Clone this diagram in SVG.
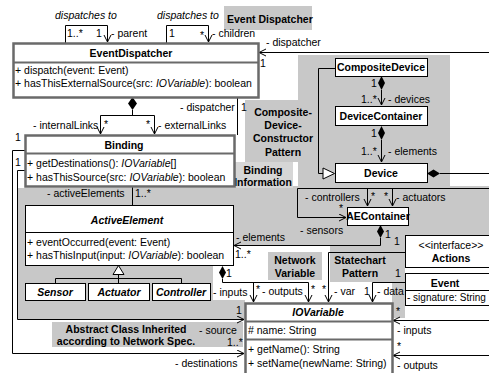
<svg xmlns="http://www.w3.org/2000/svg" width="489" height="373" viewBox="0 0 489 373">
<style>
.t{font-family:"Liberation Sans",Arial,sans-serif;font-size:10.5px;fill:#000}
.s{font-size:10px}
.b{font-weight:bold}
.i{font-style:italic}
.m{text-anchor:middle}
.box{fill:#fff;stroke:#000;stroke-width:1}
.hl{fill:#fff;stroke:#6a6a6a;stroke-width:2.5}
.hs{stroke:#6a6a6a;stroke-width:2}
.ln{fill:none;stroke:#000;stroke-width:1}
.gr{fill:#c8c8c8}
.gl{fill:#d6d6d6}
.dm{fill:#000}
.tri{fill:#fff;stroke:#000;stroke-width:1}
</style>
<defs>
<marker id="a" markerWidth="10" markerHeight="10" refX="7" refY="4" orient="auto" markerUnits="userSpaceOnUse"><path d="M0,0.5 L7,4 L0,7.5" fill="none" stroke="#000" stroke-width="1"/></marker>
</defs>
<g id="regions">
<rect class="gr" x="224" y="6" width="88" height="24"/>
<rect class="gr" x="298" y="55" width="152" height="131"/>
<rect class="gr" x="245" y="100" width="53" height="62"/>
<rect class="gr" x="235" y="186" width="254" height="59"/>
<rect class="gr" x="17" y="188" width="228" height="57"/>
<rect class="gr" x="17" y="245" width="196" height="74"/>
<rect class="gr" x="213" y="300" width="32" height="19"/>
<rect class="gr" x="330" y="245" width="75" height="37"/>
<rect class="gr" x="392" y="245" width="13" height="73"/>
<rect class="gr" x="268" y="252" width="54" height="28"/>
<rect class="gr" x="52" y="322" width="191" height="25"/>
<rect class="gl" x="235" y="162" width="58" height="26"/>
<text class="t b" x="227" y="23">Event Dispatcher</text>
<text class="t b m" x="283" y="116">Composite-</text>
<text class="t b m" x="283" y="129">Device-</text>
<text class="t b m" x="283" y="142">Constructor</text>
<text class="t b m" x="283" y="156">Pattern</text>
<text class="t b m" x="263" y="174">Binding</text>
<text class="t b m" x="263" y="186">Information</text>
<text class="t b m" x="295" y="264">Network</text>
<text class="t b m" x="295" y="277">Variable</text>
<text class="t b m" x="360" y="264">Statechart</text>
<text class="t b m" x="360" y="277">Pattern</text>
<text class="t b m" x="126" y="333">Abstract Class Inherited</text>
<text class="t b m" x="126" y="345">according to Network Spec.</text>
</g>
<g id="connectors">
<path class="ln" d="M65.5,43 V25.5 H107.5 V42" marker-end="url(#a)"/>
<path class="ln" d="M166.5,43 V25.5 H208.5 V42" marker-end="url(#a)"/>
<path class="ln" d="M489,52.5 H259" marker-end="url(#a)"/>
<polygon class="dm" points="132.5,97 137,103.5 132.5,110 128,103.5"/>
<path class="ln" d="M132.5,110 V115.5 M100.5,115.5 H154.5"/>
<path class="ln" d="M100.5,115.5 V134" marker-end="url(#a)"/>
<path class="ln" d="M154.5,115.5 V134" marker-end="url(#a)"/>
<path class="ln" d="M237.5,97 V135"/>
<path class="ln" d="M132.5,186 V205"/>
<path class="ln" d="M25,150.5 H12.5 V353.5 H244" marker-end="url(#a)"/>
<path class="ln" d="M25,170.5 H17.5 V319.5 H244" marker-end="url(#a)"/>
<polygon class="tri" points="118.5,265.5 113,274.5 124,274.5"/>
<path class="ln" d="M118.5,274.5 V283 M55.5,278.5 H181.5 M55.5,278.5 V283 M181.5,278.5 V283"/>
<polygon class="dm" points="222.5,266 226,272.5 222.5,279 219,272.5"/>
<path class="ln" d="M222.5,279 V282.5 H308.5"/>
<path class="ln" d="M253.5,282.5 V302" marker-end="url(#a)"/>
<path class="ln" d="M308.5,282.5 V302" marker-end="url(#a)"/>
<path class="ln" d="M405,252.5 H328.5 V302" marker-end="url(#a)"/>
<path class="ln" d="M405,282.5 H372.5 V302" marker-end="url(#a)"/>
<path class="ln" d="M489,320.5 H393" marker-end="url(#a)"/>
<path class="ln" d="M489,355.5 H393" marker-end="url(#a)"/>
<polygon class="dm" points="380.5,225 384,231.5 380.5,238 377,231.5"/>
<path class="ln" d="M380.5,238 V245.5 H234" marker-end="url(#a)"/>
<path class="ln" d="M489,188.5 H297.5 V217.5 H346" marker-end="url(#a)"/>
<path class="ln" d="M367.5,188.5 V206" marker-end="url(#a)"/>
<path class="ln" d="M392.5,188.5 V206" marker-end="url(#a)"/>
<polygon class="dm" points="427,173.5 433.5,169.5 440,173.5 433.5,177.5"/>
<path class="ln" d="M440,173.5 H489"/>
<path class="ln" d="M335,68.5 H318.5 V173.5 H323"/>
<polygon class="tri" points="323,168 323,179 334.5,173.5"/>
<polygon class="dm" points="381.5,76 385,83 381.5,90 378,83"/>
<path class="ln" d="M381.5,90 V105" marker-end="url(#a)"/>
<polygon class="dm" points="381.5,126 385,133 381.5,140 378,133"/>
<path class="ln" d="M381.5,140 V162" marker-end="url(#a)"/>
<text class="t i" x="55" y="19">dispatches to</text>
<text class="t i" x="157" y="19">dispatches to</text>
<text class="t" x="67" y="37">1..*</text>
<text class="t" x="96" y="37">1</text>
<text class="t" x="111" y="37">- parent</text>
<text class="t" x="169" y="37">1</text>
<text class="t" x="200" y="39">*</text>
<text class="t" x="212" y="37">- children</text>
<text class="t" x="266" y="46">- dispatcher</text>
<text class="t" x="260" y="67">1</text>
<text class="t" x="33" y="129">- internalLinks</text>
<text class="t" x="104" y="128">*</text>
<text class="t" x="146" y="128">*</text>
<text class="t" x="158" y="129">- externalLinks</text>
<text class="t" x="180" y="111">- dispatcher</text>
<text class="t" x="241" y="111">1</text>
<text class="t" x="15" y="141">1</text>
<text class="t" x="15" y="166">1</text>
<text class="t" x="47" y="197">- activeElements</text>
<text class="t" x="135" y="197">1..*</text>
<text class="t" x="236" y="241">- elements</text>
<text class="t" x="235" y="258">1..*</text>
<text class="t" x="226" y="277">1</text>
<text class="t" x="213" y="296">- inputs</text>
<text class="t" x="256" y="293">*</text>
<text class="t" x="262" y="295">- outputs</text>
<text class="t" x="311" y="293">*</text>
<text class="t" x="322" y="293">*</text>
<text class="t" x="334" y="295">- var</text>
<text class="t" x="364" y="295">1</text>
<text class="t" x="377" y="295">- data</text>
<text class="t" x="236" y="314">1</text>
<text class="t" x="199" y="334">- source</text>
<text class="t" x="227" y="346">1..*</text>
<text class="t" x="175" y="367">- destinations</text>
<text class="t" x="396" y="315">*</text>
<text class="t" x="397" y="334">- inputs</text>
<text class="t" x="397" y="350">*</text>
<text class="t" x="397" y="369">- outputs</text>
<text class="t" x="394" y="245">1</text>
<text class="t" x="395" y="277">1</text>
<text class="t" x="305" y="201">- controllers</text>
<text class="t" x="371" y="200">*</text>
<text class="t" x="384" y="200">*</text>
<text class="t" x="396" y="201">- actuators</text>
<text class="t" x="339" y="212">*</text>
<text class="t" x="300" y="234">- sensors</text>
<text class="t" x="385" y="238">1</text>
<text class="t" x="371" y="87">1</text>
<text class="t" x="361" y="103">1..*</text>
<text class="t" x="388" y="103">- devices</text>
<text class="t" x="371" y="137">1</text>
<text class="t" x="361" y="155">1..*</text>
<text class="t" x="388" y="155">- elements</text>
</g>
<g id="EventDispatcher">
<rect class="hl" x="13.5" y="43.5" width="245" height="54"/>
<line class="hs" x1="13" y1="62.5" x2="258" y2="62.5"/>
<text class="t b m" x="131" y="57">EventDispatcher</text>
<text class="t" x="15" y="74">+ dispatch(event: Event)</text>
<text class="t" x="15" y="87">+ hasThisExternalSource(src: <tspan class="i">IOVariable</tspan>): boolean</text>
</g>
<g id="Binding">
<rect class="hl" x="25.5" y="135.5" width="209" height="51"/>
<line class="hs" x1="25" y1="153.5" x2="234" y2="153.5"/>
<text class="t b m" x="124" y="149">Binding</text>
<text class="t" x="27" y="167">+ getDestinations(): <tspan class="i">IOVariable</tspan>[]</text>
<text class="t" x="27" y="181">+ hasThisSource(src: <tspan class="i">IOVariable</tspan>): boolean</text>
</g>
<g id="ActiveElement">
<rect class="box" x="25.5" y="205.5" width="208" height="60"/>
<line class="ln" x1="25" y1="232.5" x2="233" y2="232.5"/>
<text class="t b i m" x="127" y="224">ActiveElement</text>
<text class="t" x="27" y="246">+ eventOccurred(event: Event)</text>
<text class="t" x="27" y="259">+ hasThisInput(input: <tspan class="i">IOVariable</tspan>): boolean</text>
</g>
<g id="Sensor">
<rect class="box" x="25.5" y="283.5" width="60" height="17"/>
<text class="t b i m" x="55" y="296">Sensor</text>
</g>
<g id="Actuator">
<rect class="box" x="88.5" y="283.5" width="61" height="17"/>
<text class="t b i m" x="119" y="296">Actuator</text>
</g>
<g id="Controller">
<rect class="box" x="152.5" y="283.5" width="58" height="17"/>
<text class="t b i m" x="181" y="296">Controller</text>
</g>
<g id="IOVariable">
<rect class="hl" x="245.5" y="303.5" width="147" height="72"/>
<line class="hs" x1="245" y1="321.5" x2="392" y2="321.5"/>
<line class="hs" x1="245" y1="339.5" x2="392" y2="339.5"/>
<text class="t b i m" x="318" y="316">IOVariable</text>
<text class="t" x="248" y="334"># name: String</text>
<text class="t" x="248" y="353">+ getName(): String</text>
<text class="t" x="248" y="367">+ setName(newName: String)</text>
</g>
<g id="CompositeDevice">
<rect class="box" x="335.5" y="58.5" width="92" height="18"/>
<text class="t b m" x="381" y="71">CompositeDevice</text>
</g>
<g id="DeviceContainer">
<rect class="box" x="335.5" y="106.5" width="92" height="19"/>
<text class="t b m" x="381" y="120">DeviceContainer</text>
</g>
<g id="Device">
<rect class="box" x="335.5" y="163.5" width="92" height="19"/>
<text class="t b m" x="381" y="177">Device</text>
</g>
<g id="AEContainer">
<rect class="box" x="347.5" y="207.5" width="61" height="18"/>
<text class="t b m" x="378" y="220">AEContainer</text>
</g>
<g id="Actions">
<rect class="box" x="405.5" y="235.5" width="90" height="32"/>
<text class="t m" x="451" y="249">&lt;&lt;interface&gt;&gt;</text>
<text class="t b m" x="451" y="262">Actions</text>
</g>
<g id="Event">
<rect class="box" x="405.5" y="273.5" width="90" height="32"/>
<line class="ln" x1="405" y1="290.5" x2="489" y2="290.5"/>
<text class="t b m" x="445" y="287">Event</text>
<text class="t s" x="407" y="301">- signature: String</text>
</g>
</svg>
